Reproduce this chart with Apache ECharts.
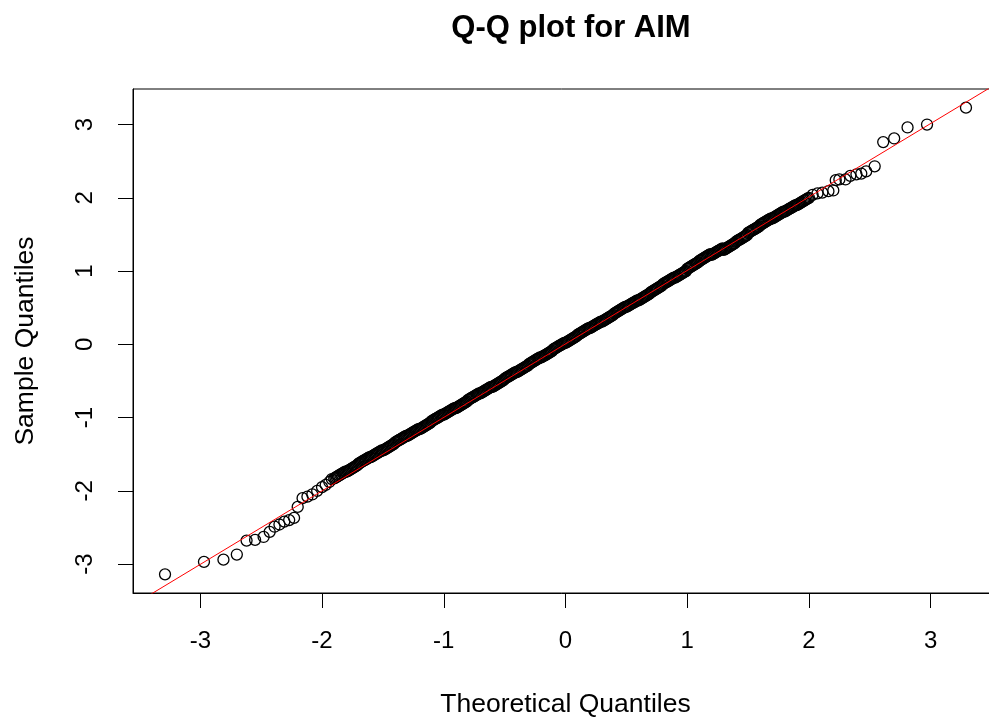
<!DOCTYPE html>
<html>
<head>
<meta charset="utf-8">
<script src="https://cdn.jsdelivr.net/npm/echarts@6/dist/echarts.min.js"></script>
<style>
  html, body { margin: 0; padding: 0; background: #fff; }
  #chart { width: 989px; height: 717px; }
</style>
</head>
<body>
<div id="chart"></div>
<script>
// ---------------- data ----------------
const chartTitle = 'Q-Q plot for AIM';
const xAxisTitle = 'Theoretical Quantiles';
const yAxisTitle = 'Sample Quantiles';
const xTickValues = [-3, -2, -1, 0, 1, 2, 3];
const yTickValues = [-3, -2, -1, 0, 1, 2, 3];

// lower tail, individual circles
const lowerTailQ = [-3.29,-2.97,-2.81,-2.70,-2.62,-2.55,-2.48,-2.43,-2.39,-2.35,-2.31,-2.27,-2.23,-2.20,-2.16,-2.12,-2.08,-2.04,-2.00,-1.97,-1.94,-1.92];
const lowerTailS = [-3.14,-2.97,-2.94,-2.87,-2.68,-2.67,-2.63,-2.56,-2.49,-2.46,-2.42,-2.40,-2.37,-2.22,-2.10,-2.08,-2.05,-2.00,-1.95,-1.92,-1.88,-1.84];

// dense central band
const bandQ = [
-1.90,-1.89,-1.88,-1.87,-1.86,-1.85,-1.84,-1.83,-1.82,-1.81,
-1.80,-1.79,-1.78,-1.77,-1.76,-1.75,-1.74,-1.73,-1.72,-1.71,
-1.70,-1.69,-1.68,-1.67,-1.66,-1.65,-1.64,-1.63,-1.62,-1.61,
-1.60,-1.59,-1.58,-1.57,-1.56,-1.55,-1.54,-1.53,-1.52,-1.51,
-1.50,-1.49,-1.48,-1.47,-1.46,-1.45,-1.44,-1.43,-1.42,-1.41,
-1.40,-1.39,-1.38,-1.37,-1.36,-1.35,-1.34,-1.33,-1.32,-1.31,
-1.30,-1.29,-1.28,-1.27,-1.26,-1.25,-1.24,-1.23,-1.22,-1.21,
-1.20,-1.19,-1.18,-1.17,-1.16,-1.15,-1.14,-1.13,-1.12,-1.11,
-1.10,-1.09,-1.08,-1.07,-1.06,-1.05,-1.04,-1.03,-1.02,-1.01,
-1.00,-0.99,-0.98,-0.97,-0.96,-0.95,-0.94,-0.93,-0.92,-0.91,
-0.90,-0.89,-0.88,-0.87,-0.86,-0.85,-0.84,-0.83,-0.82,-0.81,
-0.80,-0.79,-0.78,-0.77,-0.76,-0.75,-0.74,-0.73,-0.72,-0.71,
-0.70,-0.69,-0.68,-0.67,-0.66,-0.65,-0.64,-0.63,-0.62,-0.61,
-0.60,-0.59,-0.58,-0.57,-0.56,-0.55,-0.54,-0.53,-0.52,-0.51,
-0.50,-0.49,-0.48,-0.47,-0.46,-0.45,-0.44,-0.43,-0.42,-0.41,
-0.40,-0.39,-0.38,-0.37,-0.36,-0.35,-0.34,-0.33,-0.32,-0.31,
-0.30,-0.29,-0.28,-0.27,-0.26,-0.25,-0.24,-0.23,-0.22,-0.21,
-0.20,-0.19,-0.18,-0.17,-0.16,-0.15,-0.14,-0.13,-0.12,-0.11,
-0.10,-0.09,-0.08,-0.07,-0.06,-0.05,-0.04,-0.03,-0.02,-0.01,
0.00,0.01,0.02,0.03,0.04,0.05,0.06,0.07,0.08,0.09,
0.10,0.11,0.12,0.13,0.14,0.15,0.16,0.17,0.18,0.19,
0.20,0.21,0.22,0.23,0.24,0.25,0.26,0.27,0.28,0.29,
0.30,0.31,0.32,0.33,0.34,0.35,0.36,0.37,0.38,0.39,
0.40,0.41,0.42,0.43,0.44,0.45,0.46,0.47,0.48,0.49,
0.50,0.51,0.52,0.53,0.54,0.55,0.56,0.57,0.58,0.59,
0.60,0.61,0.62,0.63,0.64,0.65,0.66,0.67,0.68,0.69,
0.70,0.71,0.72,0.73,0.74,0.75,0.76,0.77,0.78,0.79,
0.80,0.81,0.82,0.83,0.84,0.85,0.86,0.87,0.88,0.89,
0.90,0.91,0.92,0.93,0.94,0.95,0.96,0.97,0.98,0.99,
1.00,1.01,1.02,1.03,1.04,1.05,1.06,1.07,1.08,1.09,
1.10,1.11,1.12,1.13,1.14,1.15,1.16,1.17,1.18,1.19,
1.20,1.21,1.22,1.23,1.24,1.25,1.26,1.27,1.28,1.29,
1.30,1.31,1.32,1.33,1.34,1.35,1.36,1.37,1.38,1.39,
1.40,1.41,1.42,1.43,1.44,1.45,1.46,1.47,1.48,1.49,
1.50,1.51,1.52,1.53,1.54,1.55,1.56,1.57,1.58,1.59,
1.60,1.61,1.62,1.63,1.64,1.65,1.66,1.67,1.68,1.69,
1.70,1.71,1.72,1.73,1.74,1.75,1.76,1.77,1.78,1.79,
1.80,1.81,1.82,1.83,1.84,1.85,1.86,1.87,1.88,1.89,
1.90,1.91,1.92,1.93,1.94,1.95,1.96,1.97,1.98,1.99,2.00
];
const bandS = [
-1.83,-1.82,-1.81,-1.80,-1.79,-1.78,-1.77,-1.76,-1.75,-1.74,
-1.74,-1.73,-1.72,-1.71,-1.70,-1.69,-1.68,-1.67,-1.66,-1.65,
-1.63,-1.62,-1.61,-1.60,-1.59,-1.58,-1.57,-1.56,-1.55,-1.54,
-1.54,-1.53,-1.52,-1.51,-1.50,-1.49,-1.48,-1.47,-1.46,-1.45,
-1.45,-1.44,-1.43,-1.42,-1.41,-1.40,-1.39,-1.38,-1.37,-1.36,
-1.34,-1.33,-1.32,-1.31,-1.30,-1.29,-1.28,-1.27,-1.26,-1.25,
-1.25,-1.24,-1.23,-1.22,-1.21,-1.20,-1.19,-1.18,-1.17,-1.16,
-1.16,-1.15,-1.14,-1.13,-1.12,-1.11,-1.10,-1.09,-1.08,-1.07,
-1.05,-1.04,-1.03,-1.02,-1.01,-1.00,-0.99,-0.98,-0.97,-0.96,
-0.96,-0.95,-0.94,-0.93,-0.92,-0.91,-0.90,-0.89,-0.88,-0.87,
-0.87,-0.86,-0.85,-0.84,-0.83,-0.82,-0.81,-0.80,-0.79,-0.78,
-0.76,-0.75,-0.74,-0.73,-0.72,-0.71,-0.70,-0.69,-0.68,-0.67,
-0.67,-0.66,-0.65,-0.64,-0.63,-0.62,-0.61,-0.60,-0.59,-0.58,
-0.58,-0.57,-0.56,-0.55,-0.54,-0.53,-0.52,-0.51,-0.50,-0.49,
-0.47,-0.46,-0.45,-0.44,-0.43,-0.42,-0.41,-0.40,-0.39,-0.38,
-0.38,-0.37,-0.36,-0.35,-0.34,-0.33,-0.32,-0.31,-0.30,-0.29,
-0.27,-0.26,-0.25,-0.24,-0.23,-0.22,-0.21,-0.20,-0.19,-0.18,
-0.18,-0.17,-0.16,-0.15,-0.14,-0.13,-0.12,-0.11,-0.10,-0.09,
-0.07,-0.06,-0.05,-0.04,-0.03,-0.02,-0.01,0.00,0.01,0.02,
0.02,0.03,0.04,0.05,0.06,0.07,0.08,0.09,0.10,0.11,
0.13,0.14,0.15,0.16,0.17,0.18,0.19,0.20,0.21,0.22,
0.22,0.23,0.24,0.25,0.26,0.27,0.28,0.29,0.30,0.31,
0.31,0.32,0.33,0.34,0.35,0.36,0.37,0.38,0.39,0.40,
0.42,0.43,0.44,0.45,0.46,0.47,0.48,0.49,0.50,0.51,
0.51,0.52,0.53,0.54,0.55,0.56,0.57,0.58,0.59,0.60,
0.60,0.61,0.62,0.63,0.64,0.65,0.66,0.67,0.68,0.69,
0.71,0.72,0.73,0.74,0.75,0.76,0.77,0.78,0.79,0.80,
0.82,0.83,0.84,0.85,0.86,0.87,0.88,0.89,0.90,0.91,
0.91,0.92,0.93,0.94,0.95,0.96,0.97,0.98,0.99,1.00,
1.03,1.04,1.05,1.06,1.07,1.08,1.09,1.10,1.11,1.12,
1.14,1.15,1.16,1.17,1.18,1.19,1.20,1.21,1.22,1.23,
1.22,1.23,1.24,1.25,1.26,1.27,1.28,1.29,1.30,1.31,
1.29,1.30,1.31,1.32,1.33,1.34,1.35,1.36,1.37,1.38,
1.40,1.41,1.42,1.43,1.44,1.45,1.46,1.47,1.48,1.49,
1.52,1.53,1.54,1.55,1.56,1.57,1.58,1.59,1.60,1.61,
1.63,1.64,1.65,1.66,1.67,1.68,1.69,1.70,1.71,1.72,
1.72,1.73,1.74,1.75,1.76,1.77,1.78,1.79,1.80,1.81,
1.81,1.82,1.83,1.84,1.85,1.86,1.87,1.88,1.89,1.90,
1.90,1.91,1.92,1.93,1.94,1.95,1.96,1.97,1.98,1.99,2.00
];

// upper tail, individual circles
const upperTailQ = [2.03,2.07,2.11,2.16,2.20,2.22,2.25,2.30,2.34,2.39,2.43,2.47,2.54,2.61,2.70,2.81,2.97,3.29];
const upperTailS = [2.04,2.06,2.07,2.09,2.10,2.24,2.25,2.25,2.30,2.32,2.33,2.36,2.43,2.76,2.81,2.96,3.00,3.23];

// reference line (qqline)
const qqLineIntercept = 0.005;
const qqLineSlope = 1.003;
const qqLineQ = [-3.8, 3.8];

// axis ranges (R pads data range by 4%)
const xRange = [-3.553, 3.553];
const yRange = [-3.395, 3.485];

// ---------------- build ----------------
const points = [];
function addPoints(qs, ss) { qs.forEach(function (q, i) { points.push([q, ss[i]]); }); }
addPoints(lowerTailQ, lowerTailS);
addPoints(bandQ, bandS);
addPoints(upperTailQ, upperTailS);

const linePoints = qqLineQ.map(function (q) { return [q, qqLineIntercept + qqLineSlope * q]; });

const FONT = "'Liberation Sans', Arial, sans-serif";

const chart = echarts.init(document.getElementById('chart'), null, { renderer: 'canvas' });
chart.setOption({
  animation: false,
  backgroundColor: '#ffffff',
  title: {
    text: chartTitle,
    left: 566,
    top: 8,
    textAlign: 'center',
    textStyle: { fontFamily: FONT, fontSize: 31, fontWeight: 'bold', color: '#000' }
  },
  grid: {
    left: 133, top: 89, right: -9, bottom: 124,
    show: true, borderColor: '#000', borderWidth: 1,
    containLabel: false,
    outerBoundsMode: 'none'
  },
  xAxis: {
    type: 'value',
    min: xRange[0], max: xRange[1],
    name: xAxisTitle,
    nameLocation: 'middle',
    nameGap: 98,
    nameTextStyle: { fontFamily: FONT, fontSize: 26.5, color: '#000' },
    axisLine: { show: true, onZero: false, lineStyle: { color: '#000', width: 1 } },
    axisTick: { show: true, length: 15, customValues: xTickValues, lineStyle: { color: '#000', width: 1 } },
    axisLabel: { customValues: xTickValues, margin: 36, fontFamily: FONT, fontSize: 24, color: '#000' },
    splitLine: { show: false }
  },
  yAxis: {
    type: 'value',
    min: yRange[0], max: yRange[1],
    name: yAxisTitle,
    nameLocation: 'middle',
    nameGap: 94,
    nameTextStyle: { fontFamily: FONT, fontSize: 26.5, color: '#000' },
    axisLine: { show: true, onZero: false, lineStyle: { color: '#000', width: 1 } },
    axisTick: { show: true, length: 15, customValues: yTickValues, lineStyle: { color: '#000', width: 1 } },
    axisLabel: { customValues: yTickValues, margin: 36, rotate: 90, fontFamily: FONT, fontSize: 24, color: '#000' },
    splitLine: { show: false }
  },
  series: [
    {
      type: 'scatter',
      data: points,
      symbol: 'circle',
      symbolSize: 11,
      itemStyle: { color: 'rgba(0,0,0,0)', borderColor: '#000', borderWidth: 1.3, opacity: 1 },
      emphasis: { disabled: true },
      z: 2
    },
    {
      type: 'line',
      data: linePoints,
      showSymbol: false,
      symbol: 'none',
      clip: true,
      lineStyle: { color: '#ff0000', width: 1 },
      emphasis: { disabled: true },
      z: 3
    }
  ]
});
</script>
</body>
</html>
